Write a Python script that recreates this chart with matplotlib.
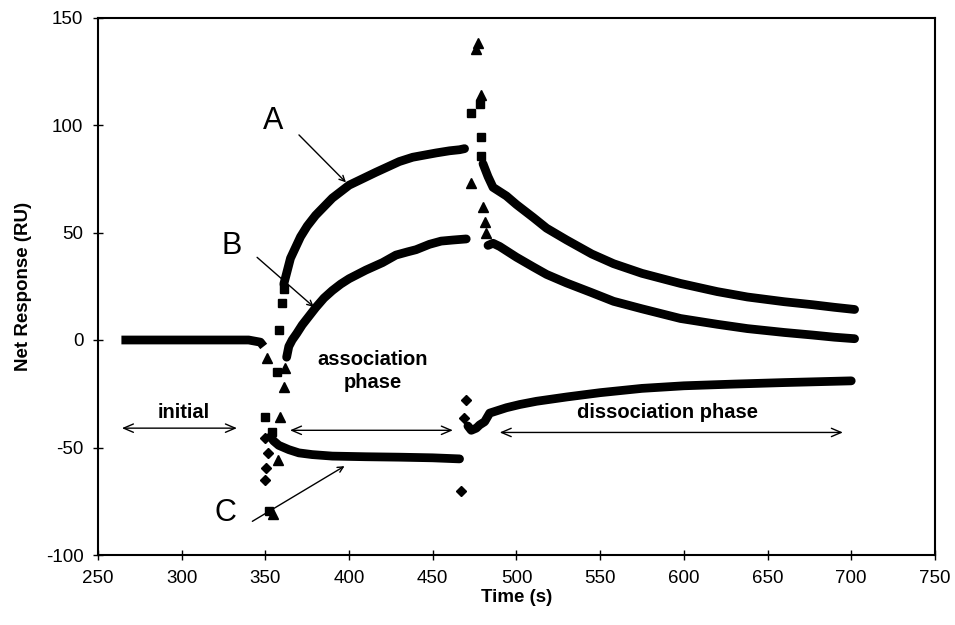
import matplotlib
matplotlib.use("Agg")
import matplotlib.pyplot as plt

plt.rcParams['font.family'] = ['Liberation Sans', 'DejaVu Sans']
plt.rcParams['axes.unicode_minus'] = False

# ---- data (time in s, response in RU) ----
# shared baseline before injection
base_t = [264, 280, 300, 320, 340, 347, 349]
base_y = [0, 0, 0, 0, 0, -1, -3]

# curve A (squares)
a_assoc_t = [361, 363, 365, 368, 371, 375, 380, 385, 390, 395, 400, 408, 416, 423, 430, 438, 445, 452, 460, 466, 469]
a_assoc_y = [26, 32, 38, 43, 48, 53, 58, 62, 66, 69, 72, 75, 78, 80.5, 83, 85, 86, 87, 88, 88.5, 89]
a_dissoc_t = [480, 483, 486, 490, 494, 500, 510, 518, 530, 545, 558, 575, 598, 620, 638, 660, 677, 690, 702]
a_dissoc_y = [82, 76, 71, 69, 67, 63, 57, 52, 46.5, 40, 35.5, 31, 26.3, 22.5, 20, 17.8, 16.4, 15.2, 14.2]
a_pts_t = [349.8, 352, 354, 356.7, 358.3, 359.7, 361.3, 473, 478, 478.6, 479]
a_pts_y = [-36, -79.5, -43, -15, 4.8, 17, 23.7, 105.6, 110, 94.4, 85.5]

# curve B (triangles)
b_assoc_t = [362.7, 364, 366, 368.7, 372, 376, 380, 385, 390, 395, 400, 410, 420, 428, 435, 440, 448, 455, 462, 470]
b_assoc_y = [-8, -3, 0, 3, 7, 11, 15, 19.5, 23, 26, 28.5, 32.5, 36, 39.5, 41, 42, 44.5, 46, 46.5, 47]
b_dissoc_t = [483, 486, 490, 495, 500, 510, 518, 530, 545, 558, 575, 598, 620, 638, 660, 677, 690, 702]
b_dissoc_y = [44, 45, 43.5, 41, 38.5, 34, 30.5, 26.5, 22, 18, 14.5, 10, 7.3, 5.3, 3.5, 2.3, 1.3, 0.6]
b_pts_t = [350.8, 354.5, 357.3, 358.7, 361, 362, 473, 476, 477, 479, 480, 481, 482]
b_pts_y = [-8.2, -81, -56, -36, -22, -12.8, 73, 135.5, 138, 114, 62, 55, 50]

# curve C (diamonds)
c_assoc_t = [353, 355, 358, 364, 370, 378, 390, 410, 430, 450, 466]
c_assoc_y = [-45, -47, -49, -51, -52.5, -53.3, -54, -54.3, -54.5, -54.8, -55.3]
c_dissoc_t = [471, 473, 476, 478, 481, 484, 488, 494, 502, 512, 530, 550, 575, 600, 630, 660, 700]
c_dissoc_y = [-40, -42, -41, -39.5, -38, -34, -33, -31.5, -30, -28.5, -26.5, -24.5, -22.5, -21.3, -20.5, -19.8, -19]
c_pts_t = [349.8, 351.7, 350.2, 349.8, 466.6, 469.8, 468.6]
c_pts_y = [-45.6, -52.6, -59.6, -65, -70, -28, -36.5]

fig = plt.figure(figsize=(9.55, 6.25), dpi=100)
ax = fig.add_axes([0.1026, 0.112, 0.8764, 0.86])

lw = 6.3
ax.plot(base_t, base_y, color='black', lw=lw, solid_capstyle='butt')
for t, y in [(a_assoc_t, a_assoc_y), (a_dissoc_t, a_dissoc_y),
             (b_assoc_t, b_assoc_y), (b_dissoc_t, b_dissoc_y),
             (c_assoc_t, c_assoc_y), (c_dissoc_t, c_dissoc_y)]:
    ax.plot(t, y, color='black', lw=lw, solid_capstyle='round')

ax.plot(a_pts_t, a_pts_y, ls='none', marker='s', ms=6, color='black')
ax.plot(b_pts_t, b_pts_y, ls='none', marker='^', ms=6.5, color='black')
ax.plot(c_pts_t, c_pts_y, ls='none', marker='D', ms=5, color='black')

# curve labels with pointer arrows
ax.annotate('', xy=(399.3, 72.4), xytext=(368.9, 96.3),
            arrowprops=dict(arrowstyle='->', lw=1, color='black'))
ax.annotate('', xy=(380.2, 14.5), xytext=(343.8, 39.3),
            arrowprops=dict(arrowstyle='->', lw=1, color='black'))
ax.annotate('', xy=(398.7, -58), xytext=(340.8, -85),
            arrowprops=dict(arrowstyle='->', lw=1, color='black'))
ax.text(354.5, 102, 'A', fontsize=22, ha='center', va='center')
ax.text(330, 43.5, 'B', fontsize=22, ha='center', va='center')
ax.text(325.9, -80.4, 'C', fontsize=22, ha='center', va='center')

# phase arrows
for x0, x1, y in [(264.3, 333, -41), (364.7, 462, -42), (490, 695, -43)]:
    ax.annotate('', xy=(x1, y), xytext=(x0, y),
                arrowprops=dict(arrowstyle='<->,head_length=0.7,head_width=0.3',
                                lw=1, color='black', shrinkA=0, shrinkB=0))
ax.text(301, -33.5, 'initial', fontsize=14.5, fontweight='bold', ha='center', va='center')
ax.text(414, -9, 'association', fontsize=14.5, fontweight='bold', ha='center', va='center')
ax.text(414, -19.8, 'phase', fontsize=14.5, fontweight='bold', ha='center', va='center')
ax.text(590, -33.6, 'dissociation phase', fontsize=14.5, fontweight='bold', ha='center', va='center')

ax.set_xlim(250, 750)
ax.set_ylim(-100, 150)
ax.set_xticks(range(250, 751, 50))
ax.set_yticks(range(-100, 151, 50))
ax.tick_params(direction='inout', length=7, width=1, labelsize=13.5, pad=7)
for s in ax.spines.values():
    s.set_linewidth(1.5)
ax.set_xlabel('Time (s)', fontsize=13.5, fontweight='bold', labelpad=2)
ax.set_ylabel('Net Response (RU)', fontsize=13.5, fontweight='bold', labelpad=10)

fig.savefig('out.png', dpi=100)
